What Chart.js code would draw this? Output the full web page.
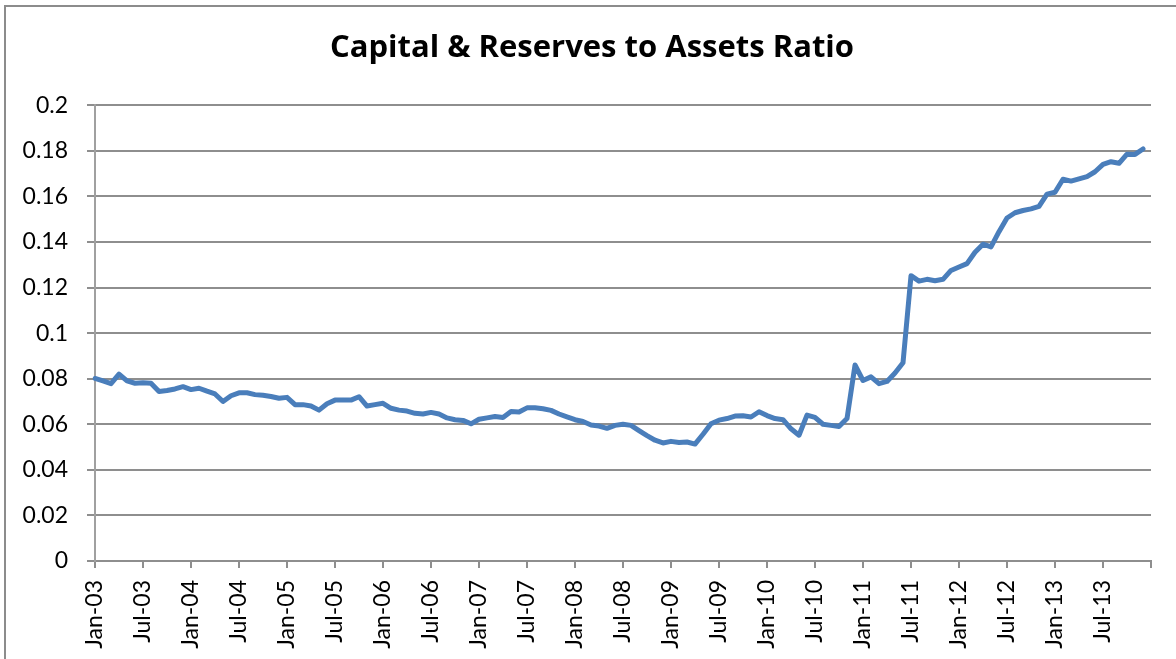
<!DOCTYPE html>
<html>
<head>
<meta charset="utf-8">
<script src="https://cdn.jsdelivr.net/npm/chart.js@4.4.1/dist/chart.umd.min.js"></script>
<style>
  html, body { margin: 0; padding: 0; background: #ffffff; overflow: hidden; }
  #wrap { position: relative; width: 1176px; height: 659px; }
  #frame { position: absolute; left: 4px; top: 5px; width: 1300px; height: 800px;
           border: 2px solid #8c8c8c; box-sizing: border-box; }
  canvas { position: absolute; left: 0; top: 0; }
</style>
</head>
<body>
<div id="wrap">
  <div id="frame"></div>
  <canvas id="chart" width="1176" height="659"></canvas>
</div>
<script>
// Month-end series, Jan 2003 – Dec 2013
const monthNames = ['Jan','Feb','Mar','Apr','May','Jun','Jul','Aug','Sep','Oct','Nov','Dec'];
const yearCodes = ['03','04','05','06','07','08','09','10','11','12','13','14'];

const ratio = [
  // 2003
  0.0801, 0.0790, 0.0778, 0.0820, 0.0790, 0.0780, 0.0782, 0.0780, 0.0744, 0.0748, 0.0755, 0.0765,
  // 2004
  0.0752, 0.0758, 0.0745, 0.0733, 0.0700, 0.0725, 0.0738, 0.0738, 0.0730, 0.0727, 0.0722, 0.0714,
  // 2005
  0.0718, 0.0686, 0.0686, 0.0680, 0.0662, 0.0690, 0.0706, 0.0707, 0.0706, 0.0721, 0.0680, 0.0686,
  // 2006
  0.0692, 0.0670, 0.0662, 0.0658, 0.0648, 0.0645, 0.0652, 0.0645, 0.0628, 0.0620, 0.0617, 0.0602,
  // 2007
  0.0622, 0.0628, 0.0634, 0.0630, 0.0656, 0.0654, 0.0672, 0.0672, 0.0668, 0.0661, 0.0645, 0.0632,
  // 2008
  0.0620, 0.0612, 0.0597, 0.0592, 0.0582, 0.0595, 0.0600, 0.0595, 0.0572, 0.0550, 0.0530, 0.0518,
  // 2009
  0.0525, 0.0520, 0.0522, 0.0513, 0.0556, 0.0602, 0.0618, 0.0625, 0.0636, 0.0637, 0.0632, 0.0655,
  // 2010
  0.0638, 0.0625, 0.0620, 0.0580, 0.0552, 0.0640, 0.0630, 0.0600, 0.0595, 0.0590, 0.0625, 0.0860,
  // 2011
  0.0792, 0.0808, 0.0778, 0.0788, 0.0825, 0.0870, 0.1252, 0.1228, 0.1236, 0.1230, 0.1236, 0.1275,
  // 2012
  0.1290, 0.1305, 0.1355, 0.1390, 0.1378, 0.1445, 0.1505, 0.1528, 0.1538, 0.1545, 0.1556, 0.1610,
  // 2013
  0.1618, 0.1675, 0.1667, 0.1677, 0.1687, 0.1708, 0.1740, 0.1752, 0.1745, 0.1785, 0.1784, 0.1808
];

const yTicks = [0, 0.02, 0.04, 0.06, 0.08, 0.1, 0.12, 0.14, 0.16, 0.18, 0.2];

// Category axis runs one month past the data so the axis closes at Jan-14
const months = [];
yearCodes.forEach(y => monthNames.forEach(m => months.push(m + '-' + y)));
months.length = ratio.length + 1;

const LABEL_EVERY = 6;
const gridGrey = '#8e8e8e';

new Chart(document.getElementById('chart'), {
  type: 'line',
  data: {
    labels: months,
    datasets: [{
      label: 'Capital & Reserves to Assets Ratio',
      data: ratio,
      yAxisID: 'y',
      borderColor: '#4a7ebb',
      backgroundColor: '#4a7ebb',
      borderWidth: 5,
      pointRadius: 0,
      tension: 0,
      borderJoinStyle: 'round',
      borderCapStyle: 'round',
      fill: false
    }]
  },
  options: {
    responsive: false,
    animation: false,
    devicePixelRatio: 1,
    layout: { padding: { left: 21, right: 13, top: 0, bottom: 0 } },
    plugins: {
      legend: { display: false },
      tooltip: { enabled: false },
      title: {
        display: true,
        text: 'Capital & Reserves to Assets Ratio',
        color: '#000000',
        font: { family: 'Open Sans', size: 31, weight: 'bold', lineHeight: 1.2 },
        padding: { top: 30, bottom: 38 }
      }
    },
    scales: {
      x: {
        type: 'category',
        offset: false,
        afterFit: s => { s.height = 98; s.paddingLeft = 0; s.paddingRight = 0; },
        border: { display: true, color: gridGrey, width: 2 },
        grid: { drawOnChartArea: false, drawTicks: true, tickLength: 7, color: gridGrey, lineWidth: 2 },
        ticks: {
          autoSkip: false,
          minRotation: 90,
          maxRotation: 90,
          padding: 12,
          color: '#000000',
          font: { family: 'Lato', size: 23 },
          callback: function (value, index) {
            if (index % LABEL_EVERY !== 0 && index !== ratio.length) return null;
            if (index >= ratio.length) return '';
            return this.getLabelForValue(value);
          }
        }
      },
      y: {
        position: 'left',
        min: 0,
        max: 0.2,
        afterFit: s => { s.width = 74; },
        afterBuildTicks: s => { s.ticks = yTicks.map(v => ({ value: v })); },
        border: { display: true, color: '#a0a0a0', width: 2 },
        grid: { drawOnChartArea: true, drawTicks: true, tickLength: 8, color: gridGrey, lineWidth: 2 },
        ticks: {
          padding: 19,
          color: '#000000',
          font: { family: 'Lato', size: 23 },
          callback: v => String(parseFloat(Number(v).toFixed(2)))
        }
      },
      // empty right-hand margin that keeps the plot edge clear of the frame
      margin: {
        type: 'linear',
        position: 'right',
        afterFit: s => { s.width = 12; },
        border: { display: false },
        grid: { display: false },
        ticks: { display: false }
      }
    }
  }
});
</script>
</body>
</html>
